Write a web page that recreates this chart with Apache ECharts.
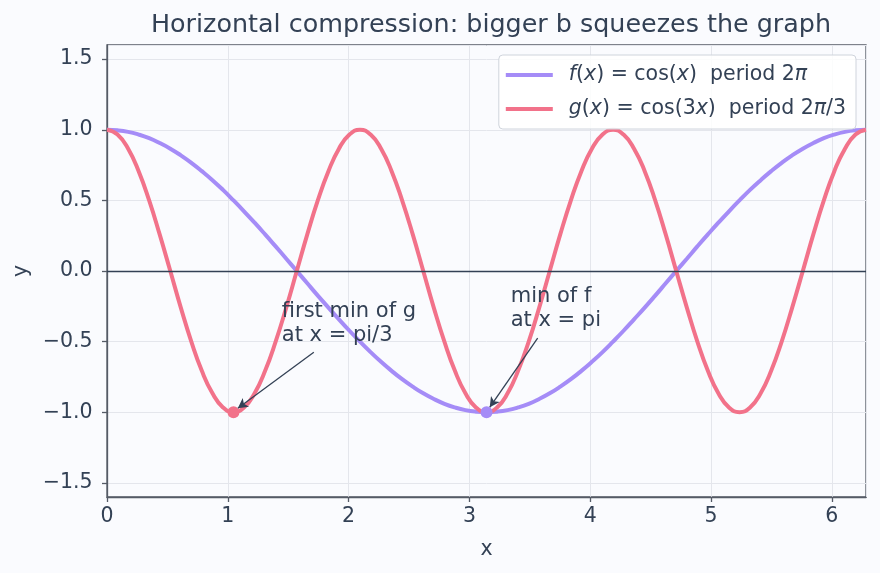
<!DOCTYPE html>
<html>
<head>
<meta charset="utf-8">
<script src="https://cdn.jsdelivr.net/npm/echarts@6/dist/echarts.min.js"></script>
<style>
  html, body { margin: 0; background: #fafbfe; }
  #chart { width: 880px; height: 573px; }
</style>
</head>
<body>
<div id="chart"></div>
<script>
// x sampled every pi/36 from 0 to 2pi
let xs = [0, 0.087, 0.175, 0.262, 0.349, 0.436, 0.524, 0.611, 0.698, 0.785, 0.873, 0.960, 1.047, 1.134, 1.222, 1.309, 1.396, 1.484,
  1.571, 1.658, 1.745, 1.833, 1.920, 2.007, 2.094, 2.182, 2.269, 2.356, 2.443, 2.531, 2.618, 2.705, 2.793, 2.880, 2.967, 3.054,
  3.142, 3.229, 3.316, 3.403, 3.491, 3.578, 3.665, 3.752, 3.840, 3.927, 4.014, 4.102, 4.189, 4.276, 4.363, 4.451, 4.538, 4.625,
  4.712, 4.800, 4.887, 4.974, 5.061, 5.149, 5.236, 5.323, 5.411, 5.498, 5.585, 5.672, 5.760, 5.847, 5.934, 6.021, 6.109, 6.196, 6.283];

let fVals = [1, 0.996, 0.985, 0.966, 0.94, 0.906, 0.866, 0.819, 0.766, 0.707, 0.643, 0.574, 0.5, 0.423, 0.342, 0.259, 0.174, 0.087,
  0, -0.087, -0.174, -0.259, -0.342, -0.423, -0.5, -0.574, -0.643, -0.707, -0.766, -0.819, -0.866, -0.906, -0.94, -0.966, -0.985, -0.996,
  -1, -0.996, -0.985, -0.966, -0.94, -0.906, -0.866, -0.819, -0.766, -0.707, -0.643, -0.574, -0.5, -0.423, -0.342, -0.259, -0.174, -0.087,
  0, 0.087, 0.174, 0.259, 0.342, 0.423, 0.5, 0.574, 0.643, 0.707, 0.766, 0.819, 0.866, 0.906, 0.94, 0.966, 0.985, 0.996, 1];

let gVals = [1, 0.966, 0.866, 0.707, 0.5, 0.259, 0, -0.259, -0.5, -0.707, -0.866, -0.966, -1, -0.966, -0.866, -0.707, -0.5, -0.259,
  0, 0.259, 0.5, 0.707, 0.866, 0.966, 1, 0.966, 0.866, 0.707, 0.5, 0.259, 0, -0.259, -0.5, -0.707, -0.866, -0.966,
  -1, -0.966, -0.866, -0.707, -0.5, -0.259, 0, 0.259, 0.5, 0.707, 0.866, 0.966, 1, 0.966, 0.866, 0.707, 0.5, 0.259,
  0, -0.259, -0.5, -0.707, -0.866, -0.966, -1, -0.966, -0.866, -0.707, -0.5, -0.259, 0, 0.259, 0.5, 0.707, 0.866, 0.966, 1];

// marked minima and annotation arrows (data units)
let gMin = [1.047, -1];
let fMin = [3.142, -1];
let arrowG = [[1.712, -0.575], [1.083, -0.972]];
let arrowF = [[3.565, -0.475], [3.168, -0.965]];
let noteG = [1.447, -0.2];
let noteF = [3.342, -0.095];
let noteGText = 'first min of g\nat x = pi/3';
let noteFText = 'min of f\nat x = pi';

let textColor = '#334155';
let axisColor = '#555b66';
let fColor = '#a58cf7';
let gColor = '#f2728a';

function legendLabel(name) {
  if (name == 'f') return '{p|}{i|f}({i|x}) = cos({i|x})  period 2{i|π}';
  return '{p|}{i|g}({i|x}) = cos(3{i|x})  period 2{i|π}/3';
}

function drawChart() {
  let chartDom = document.querySelector('#chart');
  let myChart = echarts.init(chartDom);

  let option = {
    backgroundColor: '#fafbfe',
    animation: false,
    textStyle: { fontFamily: 'DejaVu Sans', color: textColor },
    title: {
      text: 'Horizontal compression: bigger b squeezes the graph',
      left: 486, textAlign: 'center', top: 8,
      textStyle: { fontSize: 25.4, fontWeight: 'normal', color: textColor, fontFamily: 'DejaVu Sans' }
    },
    legend: {
      data: ['f', 'g'],
      orient: 'vertical',
      right: 24, top: 55,
      padding: [8, 10, 8, 7],
      itemGap: 10,
      itemWidth: 47, itemHeight: 4,
      icon: 'rect',
      backgroundColor: 'rgba(255,255,255,0.85)',
      borderColor: '#cfd4dc', borderWidth: 1, borderRadius: 4,
      formatter: legendLabel,
      textStyle: {
        fontSize: 20.5, color: textColor, fontFamily: 'DejaVu Sans', lineHeight: 24,
        rich: {
          p: { width: 11 },
          i: { fontStyle: 'italic', fontSize: 20.5, color: textColor, fontFamily: 'DejaVu Sans' }
        }
      }
    },
    grid: {
      left: 107, right: 14, top: 45, bottom: 76,
      show: true, borderColor: axisColor, borderWidth: 1.3, backgroundColor: 'transparent'
    },
    xAxis: {
      type: 'value', min: 0, max: 6.283, interval: 1,
      name: 'x', nameLocation: 'middle', nameGap: 42,
      nameTextStyle: { fontSize: 20.5, color: textColor },
      axisLine: { onZero: false, lineStyle: { color: axisColor, width: 1.3 } },
      axisTick: { show: true, length: 5, lineStyle: { color: axisColor, width: 1.3 } },
      axisLabel: { fontSize: 20.5, color: textColor, margin: 9, showMaxLabel: false,
        formatter: v => Number.isInteger(v) ? String(v) : '' },
      splitLine: { show: true, lineStyle: { color: '#e4e6ec', width: 1 } }
    },
    yAxis: {
      type: 'value', min: -1.6, max: 1.6, splitNumber: 6,
      name: 'y', nameLocation: 'middle', nameGap: 72, nameRotate: 90,
      nameTextStyle: { fontSize: 20.5, color: textColor },
      axisLine: { show: true, lineStyle: { color: axisColor, width: 1.3 } },
      axisTick: { show: true, length: 5, lineStyle: { color: axisColor, width: 1.3 } },
      axisLabel: { fontSize: 20.5, color: textColor, margin: 14.5, showMinLabel: false, showMaxLabel: false,
        formatter: v => v.toFixed(1).replace('-', '\u2212') },
      splitLine: { show: true, lineStyle: { color: '#e4e6ec', width: 1 } }
    },
    series: [
      {
        name: 'f', type: 'line', showSymbol: false, smooth: true,
        data: xs.map((x, i) => [x, fVals[i]]),
        lineStyle: { color: fColor, width: 4 },
        itemStyle: { color: fColor },
        markLine: {
          silent: true, symbol: 'none', label: { show: false },
          lineStyle: { color: textColor, width: 1.4, type: 'solid' },
          data: [{ yAxis: 0 }]
        }
      },
      {
        name: 'g', type: 'line', showSymbol: false, smooth: true,
        data: xs.map((x, i) => [x, gVals[i]]),
        lineStyle: { color: gColor, width: 4 },
        itemStyle: { color: gColor }
      },
      {
        name: 'gmin', type: 'scatter', symbolSize: 12, z: 5,
        data: [gMin], itemStyle: { color: gColor, opacity: 1 },
        markLine: {
          silent: true, symbol: ['none', 'arrow'], symbolSize: [8, 10], label: { show: false },
          lineStyle: { color: textColor, width: 1.3, type: 'solid' },
          data: [
            [{ coord: arrowG[0] }, { coord: arrowG[1] }],
            [{ coord: arrowF[0] }, { coord: arrowF[1] }]
          ]
        }
      },
      {
        name: 'fmin', type: 'scatter', symbolSize: 12, z: 5,
        data: [fMin], itemStyle: { color: fColor, opacity: 1 }
      }
    ]
  };

  myChart.setOption(option);

  let pG = myChart.convertToPixel({ gridIndex: 0 }, noteG);
  let pF = myChart.convertToPixel({ gridIndex: 0 }, noteF);
  myChart.setOption({
    graphic: [
      { type: 'text', x: pG[0], y: pG[1], z: 10,
        style: { text: noteGText, fontSize: 21, lineHeight: 24, fill: textColor, fontFamily: 'DejaVu Sans' } },
      { type: 'text', x: pF[0], y: pF[1], z: 10,
        style: { text: noteFText, fontSize: 21, lineHeight: 24, fill: textColor, fontFamily: 'DejaVu Sans' } }
    ]
  });
}

document.addEventListener('DOMContentLoaded', () => {
  drawChart();
});
</script>
</body>
</html>
